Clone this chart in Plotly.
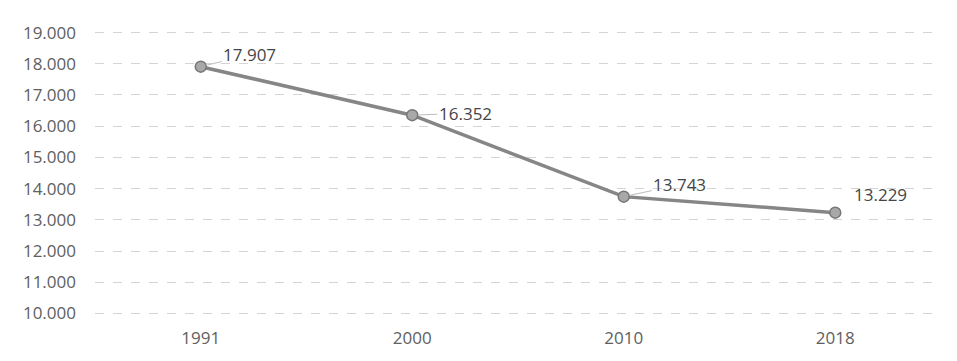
import plotly.graph_objects as go

years = ["1991", "2000", "2010", "2018"]
values = [17907, 16352, 13743, 13229]
y_ticks = [10000, 11000, 12000, 13000, 14000, 15000, 16000, 17000, 18000, 19000]

def fmt(v):
    return f"{v:,}".replace(",", ".")

xpos = list(range(len(years)))

fig = go.Figure()
fig.add_trace(go.Scatter(
    x=xpos, y=values, mode="lines+markers",
    line=dict(color="#868686", width=3.5),
    marker=dict(size=11, color="#a8a8a8", line=dict(color="#777777", width=1.5)),
    hoverinfo="skip", showlegend=False,
))

offsets = [(49, -12), (53, -2), (56, -12), (45, -18)]
leader = [True, True, True, False]
for xi, v, (dx, dy), ld in zip(xpos, values, offsets, leader):
    if ld:
        fig.add_annotation(
            x=xi, y=v, text=fmt(v), showarrow=True, ax=dx, ay=dy,
            arrowhead=0, arrowwidth=1, arrowcolor="#bdbdbd", standoff=6,
            font=dict(family="Open Sans", size=17, color="#454545"),
        )
    else:
        fig.add_annotation(
            x=xi, y=v, text=fmt(v), showarrow=False, xshift=dx, yshift=-dy,
            font=dict(family="Open Sans", size=17, color="#454545"),
        )

fig.update_layout(
    width=957, height=361,
    margin=dict(l=95, r=16, t=31, b=46),
    paper_bgcolor="white", plot_bgcolor="white",
    separators=",.",
    font=dict(family="Open Sans", size=17, color="#606060"),
)
fig.update_xaxes(
    range=[-0.5, len(years) - 0.5], tickvals=xpos, ticktext=years,
    showgrid=False, showline=False, zeroline=False,
    ticks="", ticklabelstandoff=11,
    tickfont=dict(family="Open Sans", size=17, color="#606060"),
)
fig.update_yaxes(
    range=[9950, 19050], tickvals=y_ticks, tickformat=",d",
    showgrid=True, gridcolor="#d4d4d4", gridwidth=1, griddash="dash",
    zeroline=False, showline=False, ticks="", ticklabelstandoff=18,
    tickfont=dict(family="Open Sans", size=17, color="#606060"),
)

fig.write_html("out.html")
